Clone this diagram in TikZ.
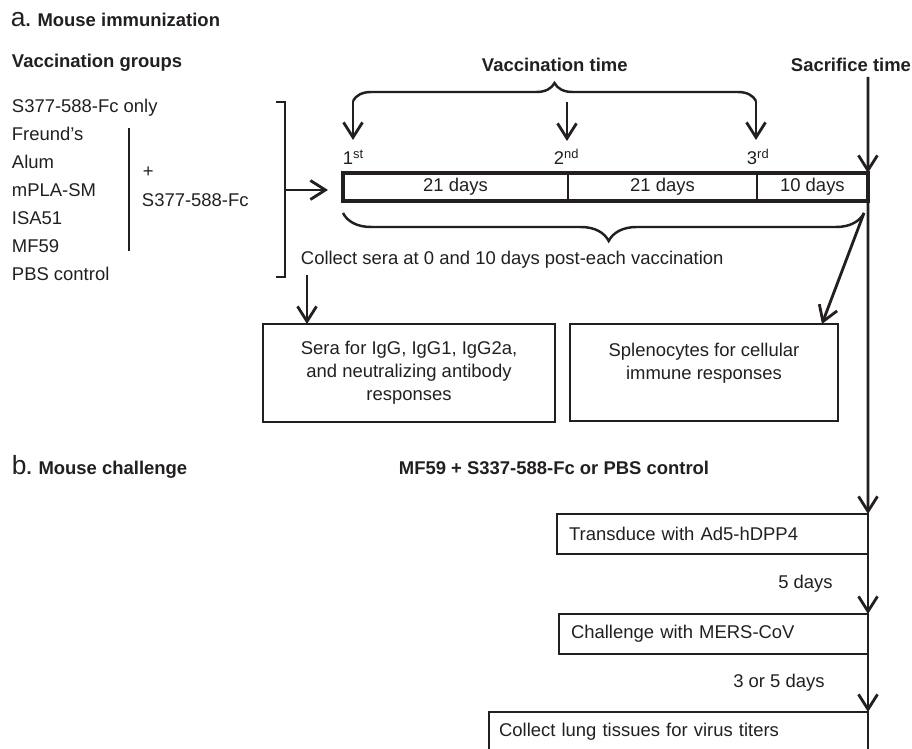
\documentclass[tikz,border=0pt]{standalone}
\usepackage{fontspec}
\setmainfont{Liberation Sans}
\usetikzlibrary{arrows.meta, positioning, decorations.pathreplacing}
\definecolor{ink}{HTML}{231F20}

\begin{document}
\begin{tikzpicture}[
            x = 0.02cm, y = -0.02cm, % one unit per pixel
            > = {Straight Barb[length=3mm, width=3.8mm]}, % arrow head style
            line width = 1.1pt, % line style
            color = ink,
            every node/.style = {font = \fontsize{10.5}{13}\selectfont}
        ]

        \tikzstyle{lbl}=[inner sep = 0pt, anchor = base west]
        \tikzstyle{head}=[lbl, font = \fontsize{10.5}{13}\selectfont\bfseries]
        \tikzstyle{box}=[
            draw,
            line width = 0.8pt,
            inner sep = 0pt,
            outer sep = 0pt,
            anchor = north west,
            align = center
        ]
        \tikzstyle{pbox}=[box, anchor = north east, align = left, inner xsep = 0.24cm, minimum height = 0.8cm]
        \tikzstyle{seg}=[draw, line width = 0.8pt, minimum height = 0.56cm, inner sep = 0pt, outer sep = 0pt]
        \tikzstyle{arr}=[->, line width = 1.6pt]
        \tikzstyle{curly}=[line width = 1.4pt, decorate]

        \clip (0,0) rectangle (912,749);

        % a. immunization
        \node[lbl] (ta) at (10,27) {{\fontsize{15}{15}\selectfont a}\textbf{. Mouse immunization}};
        \node[head] (groups) at (11,68) {Vaccination groups};

        \foreach \name/\txt [count=\i] in {g1/S377-588-Fc only, g2/Freund’s, g3/Alum,
                g4/mPLA-SM, g5/ISA51, g6/MF59, g7/PBS control}
            \node[lbl] (\name) at (11,{85+28*\i}) {\txt};

        \draw[line width = 0.9pt] (129,128) -- (129,251);
        \node[lbl] (plus) at (142,178) {+};
        \node[lbl] (antigen) at (141,207) {S377-588-Fc};

        \coordinate (brk) at (285,190);
        \draw[line width = 1.4pt] (276,102) -- (285,102) -- (285,277) -- (276,277);

        % timeline
        \node[seg, minimum width = 4.5cm, anchor = north west] (t1) at (343,173) {21 days};
        \node[seg, minimum width = 3.78cm, right = 0pt of t1] (t2) {21 days};
        \node[seg, minimum width = 2.22cm, right = 0pt of t2] (t3) {10 days};
        \draw[line width = 1.9pt] (t1.north west) rectangle (t3.south east);

        \draw[arr, shorten > = 0.3cm] (brk) -- (brk -| t1.west);

        \node[lbl] (n1) at (342,165) {1\textsuperscript{st}};
        \node[lbl] (n2) at (553,165) {2\textsuperscript{nd}};
        \node[lbl] (n3) at (746,165) {3\textsuperscript{rd}};

        \node[head] (vtime) at (481,72) {Vaccination time};
        \node[head] (stime) at (790,72) {Sacrifice time};

        \coordinate (v1) at (353,101);
        \coordinate (v2) at (567,102);
        \coordinate (v3) at (756,101);
        \draw[curly, decoration = {brace, amplitude = 0.36cm}] (v1) -- (v3);
        \foreach \v in {v1,v2,v3}
            \draw[arr] (\v) -- ++(0,39);

        \coordinate (sac) at (868,77);
        \draw[arr] (sac) -- (t3.north east);

        % sera collection
        \coordinate (cb) at (864,213);
        \coordinate (ca) at (343,213);
        \draw[curly, decoration = {brace, amplitude = 0.56cm, aspect = 0.49}] (cb) -- (ca);

        \node[lbl] (collect) at (300,265) {Collect sera at 0 and 10 days post-each vaccination};

        \node[box, minimum width = 5.84cm, minimum height = 1.96cm] (sera) at (263,324)
            {Sera for IgG, IgG1, IgG2a,\\and neutralizing antibody\\responses};
        \node[box, minimum width = 5.36cm, minimum height = 1.94cm] (spleno) at (570,324)
            {Splenocytes for cellular\\immune responses\\\mbox{}};

        \coordinate (s0) at ([xshift = 0.14cm, yshift = -0.1cm]collect.south west);
        \draw[arr] (s0) -- (s0 |- sera.north);
        \draw[arr] (cb) -- ([xshift = -0.32cm]spleno.north east);

        % b. challenge
        \node[lbl] (tb) at (11,474) {{\fontsize{15}{15}\selectfont b}\textbf{. Mouse challenge}};
        \node[head] (regimen) at (398,474) {MF59 + S337-588-Fc or PBS control};

        \node[pbox, text width = 5.74cm] (trans) at (868,514) {Transduce with Ad5-hDPP4};
        \node[pbox, text width = 5.70cm] (chal) at (868,614) {Challenge with MERS-CoV};
        \node[pbox, text width = 7.18cm, inner xsep = 0.2cm] (lung) at (868,712) {Collect lung tissues for virus titers};

        \draw[arr] (t3.north east) -- (trans.north east);
        \draw[arr] (trans.south east) -- node[inner sep = 0pt, left = 0.68cm] {5 days} (chal.north east);
        \draw[arr] (chal.south east) -- node[inner sep = 0pt, left = 0.84cm] {3 or 5 days} (lung.north east);

  \end{tikzpicture}
\end{document}
